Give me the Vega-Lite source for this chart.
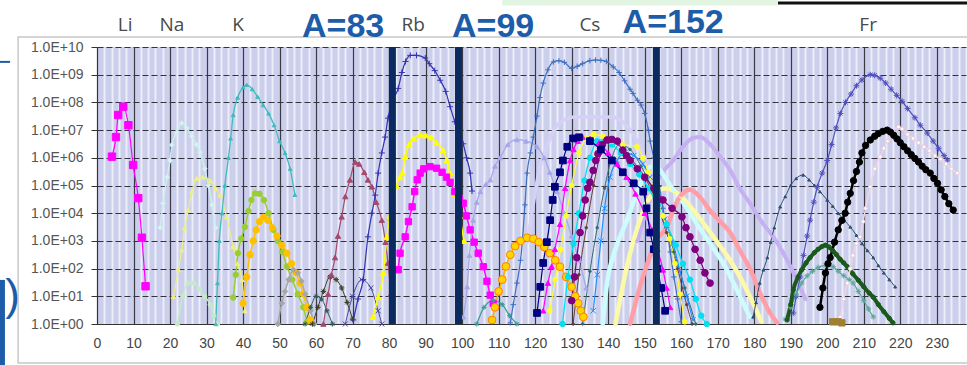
{
"$schema":"https://vega.github.io/schema/vega-lite/v6.json",
"autosize":{"type":"none"},
"width":869,"height":277,
"padding":{"left":97,"top":47,"right":1,"bottom":41},
"background":"#ffffff",
"config":{"view":{"fill":"#cbcfec","stroke":null}},
"datasets":{
"frame":[{"x":-21.6,"x2":240,"y":2.3e10,"y2":0.039}],
"alines":[{"a":80.9},{"a":99.0},{"a":153.2}],
"elem":[{"t":"Li","x":7.7,"y":6.2e10},{"t":"Na","x":20.5,"y":6.2e10},{"t":"K","x":38.6,"y":6.2e10},{"t":"Rb","x":86.6,"y":6.2e10},{"t":"Cs","x":135,"y":6.2e10},{"t":"Fr","x":211.2,"y":6.2e10}],
"big":[{"t":"A=83","x":67.4,"y":2.3e10},{"t":"A=99","x":108.5,"y":2.3e10},{"t":"A=152","x":157.8,"y":3.2e10}],
"paren":[{"t":")","x":-23.1,"y":9.4}],
"decor":[{"k":"bar","x":-25.9,"x2":-25.9,"y":39,"y2":0.033},{"k":"dash","x":-26.6,"x2":-23.8,"y":2.9e9,"y2":2.9e9},{"k":"top","x":186.5,"x2":240,"y":3.9e11,"y2":3.9e11},{"k":"green","x":111,"x2":186.5,"y":4.2e11,"y2":4.2e11}],
"series":[
{"s":"a01","x":118,"y":1e3},{"s":"a01","x":121,"y":3e5},{"s":"a01","x":124,"y":5e6},{"s":"a01","x":127,"y":2e7},{"s":"a01","x":131,"y":3e7},{"s":"a01","x":136,"y":3e7},{"s":"a01","x":141,"y":3e7},{"s":"a01","x":145,"y":1.5e7},{"s":"a01","x":148,"y":4e6},{"s":"a01","x":150,"y":1e6},{"s":"a01","x":152,"y":1.5e5},{"s":"a01","x":154,"y":1e4},
{"s":"a02","x":148,"y":1e3},{"s":"a02","x":151,"y":2e4},{"s":"a02","x":154,"y":2e5},{"s":"a02","x":157.8,"y":8e5},{"s":"a02","x":160.5,"y":2.5e6},{"s":"a02","x":163,"y":5e6},{"s":"a02","x":165.2,"y":5.6e6},{"s":"a02","x":168,"y":3e6},{"s":"a02","x":170.7,"y":1.1e6},{"s":"a02","x":173.4,"y":3.6e5},{"s":"a02","x":176,"y":8e4},{"s":"a02","x":178.8,"y":2.3e4},{"s":"a02","x":182,"y":5e3},{"s":"a02","x":185.2,"y":1.4e3},{"s":"a02","x":188,"y":360},{"s":"a02","x":191,"y":60},{"s":"a02","x":194,"y":8},
{"s":"a03","x":138.5,"y":1},{"s":"a03","x":139.7,"y":30},{"s":"a03","x":142,"y":500},{"s":"a03","x":145,"y":5e3},{"s":"a03","x":148,"y":6e4},{"s":"a03","x":151.5,"y":4.7e5},{"s":"a03","x":153,"y":5e5},{"s":"a03","x":155.5,"y":2e5},{"s":"a03","x":157.8,"y":7e4},{"s":"a03","x":161,"y":2e4},{"s":"a03","x":165,"y":3e3},{"s":"a03","x":169,"y":500},{"s":"a03","x":172,"y":120},{"s":"a03","x":175,"y":20},{"s":"a03","x":178.8,"y":1.8},
{"s":"a04","x":142,"y":1},{"s":"a04","x":145,"y":100},{"s":"a04","x":148,"y":3e3},{"s":"a04","x":151,"y":3e4},{"s":"a04","x":153,"y":6e4},{"s":"a04","x":156,"y":8e4},{"s":"a04","x":160,"y":4e4},{"s":"a04","x":163.5,"y":1.2e4},{"s":"a04","x":167,"y":3e3},{"s":"a04","x":170.5,"y":700},{"s":"a04","x":174,"y":150},{"s":"a04","x":177,"y":30},{"s":"a04","x":179.7,"y":5.6},{"s":"a04","x":182,"y":1.2},
{"s":"a05","x":146,"y":1},{"s":"a05","x":149,"y":30},{"s":"a05","x":151.5,"y":300},{"s":"a05","x":153,"y":1e3},{"s":"a05","x":156,"y":3e3},{"s":"a05","x":158,"y":1.5e4},{"s":"a05","x":160,"y":4.5e4},{"s":"a05","x":162.4,"y":7e4},{"s":"a05","x":165,"y":4e4},{"s":"a05","x":168,"y":1.2e4},{"s":"a05","x":170.7,"y":5e3},{"s":"a05","x":173.4,"y":2e3},{"s":"a05","x":176,"y":470},{"s":"a05","x":179,"y":90},{"s":"a05","x":181.6,"y":13},{"s":"a05","x":184,"y":3},{"s":"a05","x":186.3,"y":1.1},
{"s":"a06","x":17.3,"y":3e3},{"s":"a06","x":18.1,"y":2.3e4},{"s":"a06","x":19.2,"y":2e5},{"s":"a06","x":20,"y":8e5},{"s":"a06","x":20.5,"y":2.9e6},{"s":"a06","x":21.8,"y":8e6},{"s":"a06","x":23.2,"y":1.8e7},{"s":"a06","x":24.5,"y":1.2e7},{"s":"a06","x":26,"y":6e6},{"s":"a06","x":27.2,"y":3e6},{"s":"a06","x":28.2,"y":1.6e6},{"s":"a06","x":29.5,"y":4e5},{"s":"a06","x":30.5,"y":1e5},{"s":"a06","x":31.5,"y":2e4},{"s":"a06","x":32.5,"y":3e3},
{"s":"a07","x":20.9,"y":10},{"s":"a07","x":22.3,"y":91},{"s":"a07","x":23.2,"y":470},{"s":"a07","x":24,"y":3e3},{"s":"a07","x":25,"y":1.3e4},{"s":"a07","x":26,"y":6e4},{"s":"a07","x":27.3,"y":1.8e5},{"s":"a07","x":29,"y":2e5},{"s":"a07","x":31,"y":1.5e5},{"s":"a07","x":32.5,"y":8e4},{"s":"a07","x":33.7,"y":4.5e4},{"s":"a07","x":35.5,"y":7.4e3},{"s":"a07","x":37.3,"y":630},{"s":"a07","x":38.5,"y":150},{"s":"a07","x":39.7,"y":40},{"s":"a07","x":40.5,"y":3},
{"s":"a08","x":22,"y":1},{"s":"a08","x":23.5,"y":10},{"s":"a08","x":25,"y":30},{"s":"a08","x":26.5,"y":30},{"s":"a08","x":28,"y":18},{"s":"a08","x":29.5,"y":10},{"s":"a08","x":31,"y":5},{"s":"a08","x":32,"y":2},{"s":"a08","x":33,"y":1},
{"s":"a09","x":32.5,"y":1},{"s":"a09","x":33,"y":30},{"s":"a09","x":33.5,"y":1e3},{"s":"a09","x":34.2,"y":1e4},{"s":"a09","x":35,"y":1e5},{"s":"a09","x":36,"y":1e6},{"s":"a09","x":36.6,"y":5e6},{"s":"a09","x":37.3,"y":3.5e7},{"s":"a09","x":38.5,"y":1.5e8},{"s":"a09","x":40,"y":3.5e8},{"s":"a09","x":41,"y":4.3e8},{"s":"a09","x":42.5,"y":3e8},{"s":"a09","x":44,"y":1.6e8},{"s":"a09","x":45.5,"y":8e7},{"s":"a09","x":47,"y":4e7},{"s":"a09","x":48.5,"y":1.5e7},{"s":"a09","x":50,"y":4e6},{"s":"a09","x":51.5,"y":1.5e6},{"s":"a09","x":52.9,"y":4e5},{"s":"a09","x":54.2,"y":4.6e4},
{"s":"a10","x":37.3,"y":9},{"s":"a10","x":38,"y":60},{"s":"a10","x":38.6,"y":360},{"s":"a10","x":39.5,"y":1.2e3},{"s":"a10","x":40.5,"y":3.2e3},{"s":"a10","x":41.5,"y":1.2e4},{"s":"a10","x":42.3,"y":3e4},{"s":"a10","x":43.3,"y":5.2e4},{"s":"a10","x":44.5,"y":5e4},{"s":"a10","x":45.7,"y":3e4},{"s":"a10","x":47,"y":1e4},{"s":"a10","x":48.3,"y":2.5e3},{"s":"a10","x":49.5,"y":1e3},{"s":"a10","x":50.8,"y":400},{"s":"a10","x":52,"y":120},{"s":"a10","x":53.5,"y":40},{"s":"a10","x":55,"y":12},{"s":"a10","x":56.5,"y":4},{"s":"a10","x":57.5,"y":1.2},
{"s":"a11","x":40,"y":5.6},{"s":"a11","x":41,"y":50},{"s":"a11","x":41.9,"y":316},{"s":"a11","x":42.8,"y":1e3},{"s":"a11","x":43.6,"y":2.5e3},{"s":"a11","x":44.5,"y":5e3},{"s":"a11","x":45.6,"y":7.2e3},{"s":"a11","x":46.8,"y":5.5e3},{"s":"a11","x":48,"y":3e3},{"s":"a11","x":49.3,"y":1.5e3},{"s":"a11","x":50.6,"y":700},{"s":"a11","x":52,"y":360},{"s":"a11","x":53.3,"y":150},{"s":"a11","x":54.5,"y":70},{"s":"a11","x":55.6,"y":30},{"s":"a11","x":56.5,"y":12},{"s":"a11","x":57.5,"y":4},{"s":"a11","x":58.4,"y":1.4},
{"s":"a12","x":49.5,"y":1},{"s":"a12","x":50.6,"y":5.6},{"s":"a12","x":51.5,"y":15},{"s":"a12","x":52.5,"y":40},{"s":"a12","x":53.8,"y":90},{"s":"a12","x":55,"y":70},{"s":"a12","x":56,"y":35},{"s":"a12","x":57,"y":12},{"s":"a12","x":58.5,"y":3},{"s":"a12","x":59.5,"y":1},
{"s":"a13","x":57,"y":1},{"s":"a13","x":58.5,"y":4},{"s":"a13","x":60,"y":10},{"s":"a13","x":61.5,"y":8},{"s":"a13","x":63,"y":3},{"s":"a13","x":64.5,"y":1},
{"s":"a14","x":59,"y":1},{"s":"a14","x":60.5,"y":4},{"s":"a14","x":62,"y":15},{"s":"a14","x":63.8,"y":50},{"s":"a14","x":65.5,"y":40},{"s":"a14","x":67,"y":20},{"s":"a14","x":68.5,"y":6},{"s":"a14","x":70,"y":1.5},
{"s":"a15","x":62,"y":1},{"s":"a15","x":63.3,"y":12},{"s":"a15","x":64.2,"y":60},{"s":"a15","x":65.2,"y":250},{"s":"a15","x":66,"y":1.5e3},{"s":"a15","x":67,"y":7.4e3},{"s":"a15","x":68,"y":4e4},{"s":"a15","x":69.3,"y":1.6e5},{"s":"a15","x":70.7,"y":7e5},{"s":"a15","x":71.8,"y":6e5},{"s":"a15","x":73.2,"y":3e5},{"s":"a15","x":74.2,"y":1.6e5},{"s":"a15","x":75.3,"y":9e4},{"s":"a15","x":76.5,"y":2.5e4},{"s":"a15","x":78,"y":5.6e3},{"s":"a15","x":79,"y":900},{"s":"a15","x":79.7,"y":160},{"s":"a15","x":80.5,"y":12},
{"s":"a16","x":68,"y":1},{"s":"a16","x":70,"y":10},{"s":"a16","x":72.5,"y":40},{"s":"a16","x":75,"y":20},{"s":"a16","x":77,"y":3},{"s":"a16","x":78,"y":1},
{"s":"a17","x":70.2,"y":1.4},{"s":"a17","x":71.5,"y":8},{"s":"a17","x":72.9,"y":40},{"s":"a17","x":74.2,"y":1.4e3},{"s":"a17","x":75.3,"y":1e4},{"s":"a17","x":76.2,"y":4.5e4},{"s":"a17","x":77,"y":2.8e5},{"s":"a17","x":78,"y":1.5e6},{"s":"a17","x":78.9,"y":5.6e6},{"s":"a17","x":79.7,"y":2.7e7},{"s":"a17","x":81,"y":1.2e8},{"s":"a17","x":82.5,"y":3.2e8},{"s":"a17","x":83.5,"y":1.2e9},{"s":"a17","x":84.5,"y":3e9},{"s":"a17","x":85.8,"y":5e9},{"s":"a17","x":87.5,"y":5e9},{"s":"a17","x":89.9,"y":4e9},{"s":"a17","x":91,"y":2.5e9},{"s":"a17","x":92.5,"y":1.4e9},{"s":"a17","x":94,"y":6.3e8},{"s":"a17","x":95.5,"y":2.5e8},{"s":"a17","x":96.7,"y":7e7},{"s":"a17","x":98,"y":2e7},{"s":"a17","x":99.2,"y":6e6},{"s":"a17","x":100.3,"y":3.2e6},{"s":"a17","x":101.2,"y":1e6},{"s":"a17","x":102.2,"y":2.8e5},{"s":"a17","x":102.7,"y":6.3e4},
{"s":"a18","x":75.6,"y":1.8},{"s":"a18","x":77,"y":9.3},{"s":"a18","x":78.4,"y":70},{"s":"a18","x":79.4,"y":1.4e3},{"s":"a18","x":80.2,"y":8e3},{"s":"a18","x":81,"y":3e4},{"s":"a18","x":82,"y":1e5},{"s":"a18","x":83,"y":2e5},{"s":"a18","x":83.6,"y":2.8e5},{"s":"a18","x":84.4,"y":1.1e6},{"s":"a18","x":85.5,"y":3e6},{"s":"a18","x":86.7,"y":5e6},{"s":"a18","x":88.5,"y":6.6e6},{"s":"a18","x":90,"y":6.5e6},{"s":"a18","x":91.5,"y":5.5e6},{"s":"a18","x":93,"y":3.5e6},{"s":"a18","x":94.8,"y":1.9e6},{"s":"a18","x":95.8,"y":8e5},{"s":"a18","x":96.7,"y":2.8e5},{"s":"a18","x":98,"y":5e4},{"s":"a18","x":99.3,"y":8e3},{"s":"a18","x":100.5,"y":1e3},
{"s":"a19","x":82.5,"y":91},{"s":"a19","x":83,"y":360},{"s":"a19","x":84.4,"y":1.4e3},{"s":"a19","x":85.3,"y":5e3},{"s":"a19","x":86.3,"y":1.7e4},{"s":"a19","x":87,"y":6e4},{"s":"a19","x":87.7,"y":1.6e5},{"s":"a19","x":88.5,"y":2.8e5},{"s":"a19","x":89.5,"y":4e5},{"s":"a19","x":91.2,"y":4.8e5},{"s":"a19","x":93,"y":4.2e5},{"s":"a19","x":94.5,"y":3e5},{"s":"a19","x":95.7,"y":2e5},{"s":"a19","x":96.7,"y":1.3e5},{"s":"a19","x":98,"y":6e4},{"s":"a19","x":99.2,"y":3.5e4},{"s":"a19","x":100.3,"y":2.3e4},{"s":"a19","x":101.2,"y":8e3},{"s":"a19","x":102.2,"y":2.5e3},{"s":"a19","x":103.3,"y":900},{"s":"a19","x":104.4,"y":360},{"s":"a19","x":105.8,"y":117},{"s":"a19","x":106.8,"y":35},{"s":"a19","x":107.7,"y":11},{"s":"a19","x":108.5,"y":5.6},
{"s":"a20","x":100.3,"y":1.8},{"s":"a20","x":101.4,"y":22},{"s":"a20","x":102,"y":300},{"s":"a20","x":103,"y":5.6e3},{"s":"a20","x":104,"y":2.5e4},{"s":"a20","x":105,"y":6e4},{"s":"a20","x":106.5,"y":1.1e5},{"s":"a20","x":107.7,"y":1.6e5},{"s":"a20","x":109,"y":5e5},{"s":"a20","x":110.4,"y":1e6},{"s":"a20","x":112.5,"y":3e6},{"s":"a20","x":115,"y":4.5e6},{"s":"a20","x":117.5,"y":4e6},{"s":"a20","x":120.5,"y":2.5e6},{"s":"a20","x":122.5,"y":1e6},{"s":"a20","x":124,"y":3e5},{"s":"a20","x":126,"y":6e4},{"s":"a20","x":128,"y":1e4},{"s":"a20","x":130,"y":1.5e3},{"s":"a20","x":132,"y":200},{"s":"a20","x":134,"y":20},
{"s":"a21","x":104,"y":1},{"s":"a21","x":106,"y":4},{"s":"a21","x":108.5,"y":7},{"s":"a21","x":111,"y":5},{"s":"a21","x":113,"y":2},{"s":"a21","x":115,"y":1},
{"s":"a22","x":113.2,"y":1.1},{"s":"a22","x":114,"y":5},{"s":"a22","x":115,"y":30},{"s":"a22","x":116,"y":200},{"s":"a22","x":116.5,"y":1e3},{"s":"a22","x":117.2,"y":2e4},{"s":"a22","x":117.8,"y":2.8e5},{"s":"a22","x":118.7,"y":1.5e6},{"s":"a22","x":119.5,"y":5.6e6},{"s":"a22","x":120.5,"y":3.2e7},{"s":"a22","x":121.3,"y":1.5e8},{"s":"a22","x":122.2,"y":5e8},{"s":"a22","x":123.5,"y":1.5e9},{"s":"a22","x":125,"y":2.9e9},{"s":"a22","x":126.5,"y":3.2e9},{"s":"a22","x":128,"y":2.8e9},{"s":"a22","x":130,"y":1.7e9},{"s":"a22","x":131.5,"y":2e9},{"s":"a22","x":133,"y":2.5e9},{"s":"a22","x":135,"y":3.2e9},{"s":"a22","x":136.5,"y":3.4e9},{"s":"a22","x":138,"y":3.3e9},{"s":"a22","x":139.5,"y":3e9},{"s":"a22","x":141.4,"y":1.9e9},{"s":"a22","x":143,"y":1.2e9},{"s":"a22","x":144.5,"y":6e8},{"s":"a22","x":146,"y":3e8},{"s":"a22","x":146.8,"y":2.1e8},{"s":"a22","x":148,"y":1.2e8},{"s":"a22","x":149,"y":8e7},{"s":"a22","x":150,"y":4e7},{"s":"a22","x":151,"y":1e7},{"s":"a22","x":151.5,"y":4e6},{"s":"a22","x":152.5,"y":1e6},{"s":"a22","x":154,"y":1e5},{"s":"a22","x":155,"y":1.5e4},{"s":"a22","x":156,"y":3e3},{"s":"a22","x":157,"y":400},{"s":"a22","x":158,"y":50},{"s":"a22","x":159,"y":8},{"s":"a22","x":160,"y":1.2},
{"s":"a23","x":108.2,"y":1.4},{"s":"a23","x":109,"y":4},{"s":"a23","x":110,"y":15},{"s":"a23","x":111,"y":40},{"s":"a23","x":112,"y":120},{"s":"a23","x":113.2,"y":316},{"s":"a23","x":114.5,"y":650},{"s":"a23","x":116,"y":1e3},{"s":"a23","x":117.8,"y":1.3e3},{"s":"a23","x":119.5,"y":1.2e3},{"s":"a23","x":121,"y":900},{"s":"a23","x":122.5,"y":600},{"s":"a23","x":124,"y":360},{"s":"a23","x":125.5,"y":200},{"s":"a23","x":126.8,"y":117},{"s":"a23","x":128.5,"y":50},{"s":"a23","x":130,"y":22},{"s":"a23","x":131,"y":10},{"s":"a23","x":131.8,"y":5.6},{"s":"a23","x":132.5,"y":3},{"s":"a23","x":133.2,"y":1.8},
{"s":"a24","x":130.4,"y":1},{"s":"a24","x":132,"y":60},{"s":"a24","x":134,"y":3e3},{"s":"a24","x":136,"y":1e5},{"s":"a24","x":138,"y":1.5e6},{"s":"a24","x":140,"y":4e6},{"s":"a24","x":143,"y":3e6},{"s":"a24","x":146,"y":1e6},{"s":"a24","x":150,"y":2e5},{"s":"a24","x":153,"y":3e4},{"s":"a24","x":156,"y":2e3},{"s":"a24","x":159,"y":100},{"s":"a24","x":161.5,"y":5},{"s":"a24","x":163,"y":1},
{"s":"a25","x":133,"y":1},{"s":"a25","x":135,"y":80},{"s":"a25","x":137,"y":3e3},{"s":"a25","x":139,"y":8e4},{"s":"a25","x":141,"y":1e6},{"s":"a25","x":143,"y":3e6},{"s":"a25","x":146,"y":2e6},{"s":"a25","x":149,"y":5e5},{"s":"a25","x":152,"y":8e4},{"s":"a25","x":155,"y":8e3},{"s":"a25","x":158,"y":400},{"s":"a25","x":161,"y":20},{"s":"a25","x":164,"y":1},
{"s":"a26","x":135.9,"y":3},{"s":"a26","x":137,"y":60},{"s":"a26","x":138,"y":1e3},{"s":"a26","x":139,"y":1.5e4},{"s":"a26","x":140.5,"y":2e5},{"s":"a26","x":142.4,"y":8e5},{"s":"a26","x":144.5,"y":1.5e6},{"s":"a26","x":147,"y":1.2e6},{"s":"a26","x":149.5,"y":6e5},{"s":"a26","x":151.5,"y":2e5},{"s":"a26","x":153.5,"y":4e4},{"s":"a26","x":155.5,"y":6e3},{"s":"a26","x":157.8,"y":800},{"s":"a26","x":159.5,"y":100},{"s":"a26","x":161.5,"y":10},{"s":"a26","x":163.2,"y":1.4},
{"s":"a27","x":127.5,"y":1},{"s":"a27","x":129,"y":50},{"s":"a27","x":130.5,"y":800},{"s":"a27","x":132,"y":1e4},{"s":"a27","x":133.5,"y":1.5e5},{"s":"a27","x":135,"y":1e6},{"s":"a27","x":137,"y":4e6},{"s":"a27","x":139,"y":4.5e6},{"s":"a27","x":141,"y":3e6},{"s":"a27","x":143.5,"y":1.5e6},{"s":"a27","x":146,"y":6e5},{"s":"a27","x":148.5,"y":2.5e5},{"s":"a27","x":151,"y":8e4},{"s":"a27","x":153.5,"y":2e4},{"s":"a27","x":156,"y":4e3},{"s":"a27","x":158.5,"y":700},{"s":"a27","x":160.5,"y":150},{"s":"a27","x":162.4,"y":40},{"s":"a27","x":164,"y":8},{"s":"a27","x":165.5,"y":2},{"s":"a27","x":167,"y":1},
{"s":"a28","x":124,"y":3},{"s":"a28","x":125.5,"y":40},{"s":"a28","x":127,"y":500},{"s":"a28","x":128.5,"y":8e3},{"s":"a28","x":130,"y":1e5},{"s":"a28","x":132,"y":1.5e6},{"s":"a28","x":134,"y":5e6},{"s":"a28","x":136,"y":7e6},{"s":"a28","x":138.5,"y":6e6},{"s":"a28","x":141,"y":4e6},{"s":"a28","x":144,"y":3e6},{"s":"a28","x":147.9,"y":2.5e6},{"s":"a28","x":149.5,"y":1e6},{"s":"a28","x":151,"y":3e5},{"s":"a28","x":153,"y":5e4},{"s":"a28","x":155,"y":8e3},{"s":"a28","x":156.8,"y":1.2e3},{"s":"a28","x":158.3,"y":150},{"s":"a28","x":159.7,"y":12},{"s":"a28","x":161,"y":1.2},
{"s":"a29","x":122.2,"y":3},{"s":"a29","x":123.5,"y":30},{"s":"a29","x":124.5,"y":120},{"s":"a29","x":125.4,"y":500},{"s":"a29","x":126.8,"y":4e3},{"s":"a29","x":128.2,"y":8e4},{"s":"a29","x":129.6,"y":8e5},{"s":"a29","x":130.5,"y":2e6},{"s":"a29","x":131.7,"y":4e6},{"s":"a29","x":133,"y":5.6e6},{"s":"a29","x":135,"y":5e6},{"s":"a29","x":137.5,"y":3.5e6},{"s":"a29","x":140,"y":1.5e6},{"s":"a29","x":142.5,"y":6e5},{"s":"a29","x":145,"y":2e5},{"s":"a29","x":147.5,"y":5e4},{"s":"a29","x":150,"y":1e4},{"s":"a29","x":152,"y":2.5e3},{"s":"a29","x":153.5,"y":500},{"s":"a29","x":155,"y":90},{"s":"a29","x":156,"y":20},{"s":"a29","x":157,"y":4},
{"s":"a30","x":130,"y":7},{"s":"a30","x":130.8,"y":50},{"s":"a30","x":131.4,"y":250},{"s":"a30","x":132.3,"y":2e3},{"s":"a30","x":133,"y":8e3},{"s":"a30","x":133.7,"y":3e4},{"s":"a30","x":134.4,"y":8e4},{"s":"a30","x":135,"y":1.3e5},{"s":"a30","x":135.9,"y":3.5e5},{"s":"a30","x":136.6,"y":8e5},{"s":"a30","x":137.2,"y":1.4e6},{"s":"a30","x":138.4,"y":3e6},{"s":"a30","x":139.7,"y":4.4e6},{"s":"a30","x":141,"y":4.6e6},{"s":"a30","x":142.5,"y":4e6},{"s":"a30","x":144,"y":1.9e6},{"s":"a30","x":145,"y":1.2e6},{"s":"a30","x":146,"y":8e5},{"s":"a30","x":148,"y":4e5},{"s":"a30","x":150,"y":2e5},{"s":"a30","x":152.5,"y":8e4},{"s":"a30","x":155,"y":3e4},{"s":"a30","x":157.5,"y":1.5e4},{"s":"a30","x":160.2,"y":7.4e3},{"s":"a30","x":161.3,"y":3e3},{"s":"a30","x":162.4,"y":1.4e3},{"s":"a30","x":163.8,"y":500},{"s":"a30","x":165.2,"y":200},{"s":"a30","x":166.5,"y":70},{"s":"a30","x":167.9,"y":30},
{"s":"a31","x":120.5,"y":2.5},{"s":"a31","x":121.4,"y":22},{"s":"a31","x":122.2,"y":160},{"s":"a31","x":123.2,"y":900},{"s":"a31","x":124.1,"y":5.6e3},{"s":"a31","x":124.8,"y":3e4},{"s":"a31","x":125.4,"y":9e4},{"s":"a31","x":126.8,"y":3e5},{"s":"a31","x":127.6,"y":8e5},{"s":"a31","x":128.8,"y":2.5e6},{"s":"a31","x":130.4,"y":5e6},{"s":"a31","x":132,"y":5.5e6},{"s":"a31","x":135,"y":4e6},{"s":"a31","x":138,"y":2e6},{"s":"a31","x":141,"y":8e5},{"s":"a31","x":144,"y":3e5},{"s":"a31","x":147,"y":1.2e5},{"s":"a31","x":149.6,"y":6e4},{"s":"a31","x":150.5,"y":1.5e4},{"s":"a31","x":151.5,"y":2e3},{"s":"a31","x":152.5,"y":500},{"s":"a31","x":153.5,"y":100},{"s":"a31","x":154.5,"y":20},{"s":"a31","x":155.6,"y":3},
{"s":"a32","x":179.7,"y":1.8},{"s":"a32","x":180.5,"y":6},{"s":"a32","x":181.5,"y":30},{"s":"a32","x":182.5,"y":90},{"s":"a32","x":183.6,"y":250},{"s":"a32","x":184.5,"y":900},{"s":"a32","x":185.5,"y":3e3},{"s":"a32","x":187.1,"y":1.7e4},{"s":"a32","x":188.5,"y":4e4},{"s":"a32","x":190,"y":1e5},{"s":"a32","x":191.5,"y":1.8e5},{"s":"a32","x":193.4,"y":2.4e5},{"s":"a32","x":195,"y":1.6e5},{"s":"a32","x":196.5,"y":1e5},{"s":"a32","x":198,"y":6e4},{"s":"a32","x":200,"y":3e4},{"s":"a32","x":201.5,"y":1.8e4},{"s":"a32","x":203,"y":1e4},{"s":"a32","x":204.7,"y":5.5e3},{"s":"a32","x":206.3,"y":3.2e3},{"s":"a32","x":208,"y":1.6e3},{"s":"a32","x":209.5,"y":800},{"s":"a32","x":211,"y":450},{"s":"a32","x":212.6,"y":250},{"s":"a32","x":214,"y":130},{"s":"a32","x":215.5,"y":70},{"s":"a32","x":217,"y":40},{"s":"a32","x":218.6,"y":22},
{"s":"a33","x":190.7,"y":2.5},{"s":"a33","x":191.5,"y":10},{"s":"a33","x":192.6,"y":50},{"s":"a33","x":193.5,"y":300},{"s":"a33","x":194.5,"y":1.5e3},{"s":"a33","x":195.3,"y":5.6e3},{"s":"a33","x":196.3,"y":2.5e4},{"s":"a33","x":197.3,"y":9e4},{"s":"a33","x":198.6,"y":2.8e5},{"s":"a33","x":200,"y":8e5},{"s":"a33","x":201.2,"y":3e6},{"s":"a33","x":202.4,"y":1.2e7},{"s":"a33","x":203.6,"y":4e7},{"s":"a33","x":205,"y":1e8},{"s":"a33","x":206.5,"y":2e8},{"s":"a33","x":208,"y":4e8},{"s":"a33","x":209.5,"y":6.5e8},{"s":"a33","x":211.8,"y":1e9},{"s":"a33","x":213,"y":9.5e8},{"s":"a33","x":214.5,"y":7.5e8},{"s":"a33","x":216,"y":5e8},{"s":"a33","x":217.5,"y":3e8},{"s":"a33","x":219,"y":1.8e8},{"s":"a33","x":220.5,"y":1.1e8},{"s":"a33","x":222,"y":6e7},{"s":"a33","x":224,"y":2.8e7},{"s":"a33","x":225.5,"y":1.5e7},{"s":"a33","x":227.4,"y":7.8e6},{"s":"a33","x":229,"y":4e6},{"s":"a33","x":230.5,"y":2.2e6},{"s":"a33","x":232,"y":1.2e6},{"s":"a33","x":232.9,"y":8.3e5},
{"s":"a34","x":188.5,"y":1.5},{"s":"a34","x":190,"y":4},{"s":"a34","x":191.5,"y":12},{"s":"a34","x":193,"y":30},{"s":"a34","x":194.5,"y":55},{"s":"a34","x":196,"y":80},{"s":"a34","x":197.5,"y":110},{"s":"a34","x":199.5,"y":130},{"s":"a34","x":201.6,"y":117},{"s":"a34","x":203,"y":80},{"s":"a34","x":204.5,"y":55},{"s":"a34","x":206,"y":40},{"s":"a34","x":207.1,"y":30},{"s":"a34","x":208.5,"y":15},{"s":"a34","x":210,"y":7},{"s":"a34","x":211.3,"y":3.5},{"s":"a34","x":212.6,"y":1.8},
{"s":"a35","x":189,"y":1.4},{"s":"a35","x":190,"y":5},{"s":"a35","x":190.7,"y":17},{"s":"a35","x":192,"y":50},{"s":"a35","x":193,"y":90},{"s":"a35","x":194.2,"y":160},{"s":"a35","x":195.3,"y":250},{"s":"a35","x":196.5,"y":380},{"s":"a35","x":197.5,"y":500},{"s":"a35","x":198.5,"y":620},{"s":"a35","x":199.5,"y":700},{"s":"a35","x":200.5,"y":600},{"s":"a35","x":201.5,"y":450},{"s":"a35","x":202.5,"y":320},{"s":"a35","x":203.5,"y":220},{"s":"a35","x":204.5,"y":160},{"s":"a35","x":205.5,"y":117},{"s":"a35","x":207,"y":65},{"s":"a35","x":208.5,"y":38},{"s":"a35","x":210,"y":22},{"s":"a35","x":211.5,"y":13},{"s":"a35","x":212.6,"y":9.3},{"s":"a35","x":214,"y":5},{"s":"a35","x":215.5,"y":2.8},{"s":"a35","x":217,"y":1.6},{"s":"a35","x":218,"y":1.1},
{"s":"a36","x":203.6,"y":1.8},{"s":"a36","x":204.5,"y":8},{"s":"a36","x":205.5,"y":30},{"s":"a36","x":206.3,"y":100},{"s":"a36","x":207,"y":300},{"s":"a36","x":208,"y":800},{"s":"a36","x":209,"y":1.4e3},{"s":"a36","x":209.8,"y":5e3},{"s":"a36","x":210.5,"y":1.5e4},{"s":"a36","x":211.8,"y":9e4},{"s":"a36","x":213,"y":4e5},{"s":"a36","x":214.5,"y":1.1e6},{"s":"a36","x":215.5,"y":2.2e6},{"s":"a36","x":216.5,"y":4e6},{"s":"a36","x":218,"y":8e6},{"s":"a36","x":219.5,"y":1.3e7},{"s":"a36","x":220.5,"y":1.1e7},{"s":"a36","x":222,"y":7e6},{"s":"a36","x":223.5,"y":5e6},{"s":"a36","x":225,"y":3.5e6},{"s":"a36","x":226.5,"y":2.5e6},{"s":"a36","x":228,"y":1.8e6},{"s":"a36","x":229.5,"y":1.2e6},{"s":"a36","x":231,"y":9e5},{"s":"a36","x":232.5,"y":6e5},{"s":"a36","x":234,"y":4e5},{"s":"a36","x":235.6,"y":2.8e5},
{"s":"a37","x":198,"y":4},{"s":"a37","x":198.8,"y":20},{"s":"a37","x":199.5,"y":70},{"s":"a37","x":200.2,"y":150},{"s":"a37","x":200.8,"y":250},{"s":"a37","x":202,"y":900},{"s":"a37","x":203,"y":2.5e3},{"s":"a37","x":204,"y":5.5e3},{"s":"a37","x":204.9,"y":1e4},{"s":"a37","x":205.6,"y":2.5e4},{"s":"a37","x":206.3,"y":5.2e4},{"s":"a37","x":207.2,"y":1.5e5},{"s":"a37","x":208,"y":3.2e5},{"s":"a37","x":208.8,"y":7e5},{"s":"a37","x":209.5,"y":1.5e6},{"s":"a37","x":210.5,"y":2.8e6},{"s":"a37","x":211.8,"y":4.4e6},{"s":"a37","x":213,"y":6e6},{"s":"a37","x":214,"y":7.5e6},{"s":"a37","x":215.2,"y":9e6},{"s":"a37","x":216.4,"y":1e7},{"s":"a37","x":217.3,"y":8.5e6},{"s":"a37","x":218.2,"y":6.5e6},{"s":"a37","x":219.1,"y":4.8e6},{"s":"a37","x":220,"y":3.5e6},{"s":"a37","x":221,"y":2.5e6},{"s":"a37","x":222,"y":1.8e6},{"s":"a37","x":223,"y":1.3e6},{"s":"a37","x":224,"y":9.5e5},{"s":"a37","x":225,"y":7e5},{"s":"a37","x":226,"y":5e5},{"s":"a37","x":227,"y":3.7e5},{"s":"a37","x":228.2,"y":2.8e5},{"s":"a37","x":229.2,"y":1.8e5},{"s":"a37","x":230.2,"y":1.2e5},{"s":"a37","x":231.2,"y":7e4},{"s":"a37","x":232.2,"y":4e4},{"s":"a37","x":233.3,"y":2.2e4},{"s":"a37","x":234.5,"y":1.3e4},
{"s":"a38","x":201.5,"y":1.2},{"s":"a38","x":203,"y":1.2},{"s":"a38","x":204,"y":1.1},
{"s":"a39","x":4.1,"y":1.1e6},{"s":"a39","x":5.2,"y":5.6e6},{"s":"a39","x":5.8,"y":3.5e7},{"s":"a39","x":7.2,"y":7e7},{"s":"a39","x":8.6,"y":1.5e7},{"s":"a39","x":9.9,"y":5.5e5},{"s":"a39","x":11.3,"y":3.5e4},{"s":"a39","x":12.3,"y":1.3e3},{"s":"a39","x":13.3,"y":23}
]},
"resolve":{"scale":{"color":"independent","strokeWidth":"independent"}},
"layer":[
{"data":{"name":"frame"},
 "mark":{"type":"rect","fillOpacity":0,"stroke":"#c8c8c8","strokeWidth":1.5},
 "encoding":{
  "x":{"field":"x","type":"quantitative","scale":{"domain":[0,238],"nice":false,"zero":false}},
  "x2":{"field":"x2"},
  "y":{"field":"y","type":"quantitative","scale":{"type":"log","domain":[1,1e10],"nice":false}},
  "y2":{"field":"y2"}}},
{"data":{"name":"series"},
 "mark":{"type":"line","interpolate":"monotone"},
 "encoding":{
  "x":{"field":"x","type":"quantitative","scale":{"domain":[0,238],"nice":false,"zero":false},
   "axis":{"orient":"bottom","title":null,"tickCount":300,"values":[0,2,4,6,8,10,12,14,16,18,20,22,24,26,28,30,32,34,36,38,40,42,44,46,48,50,52,54,56,58,60,62,64,66,68,70,72,74,76,78,80,82,84,86,88,90,92,94,96,98,100,102,104,106,108,110,112,114,116,118,120,122,124,126,128,130,132,134,136,138,140,142,144,146,148,150,152,154,156,158,160,162,164,166,168,170,172,174,176,178,180,182,184,186,188,190,192,194,196,198,200,202,204,206,208,210,212,214,216,218,220,222,224,226,228,230,232,234,236,238],
    "labelExpr":"datum.value % 10 === 0 ? datum.label : ''",
    "grid":true,
    "gridColor":{"condition":{"test":"datum.value % 10 === 0","value":"#3a3a44"},"value":"#eceefa"},
    "gridWidth":{"condition":{"test":"datum.value % 10 === 0","value":1.2},"value":2},
    "domain":true,"domainColor":"#333","ticks":false,"labelPadding":12,"labelFont":"Liberation Sans","labelFontSize":14,"labelColor":"#444","labelFlush":false,"labelOverlap":false}},
  "y":{"field":"y","type":"quantitative","scale":{"type":"log","domain":[1,1e10],"nice":false},
   "axis":{"title":null,"tickCount":50,"values":[1,10,100,1000,10000,100000,1000000,10000000,100000000,1000000000,10000000000],"labelExpr":"datum.value >= 9e9 ? '1.0E+10' : '1.0E+0' + round(log(datum.value)/LN10)","grid":true,"gridColor":"#333340","gridDash":[6,3],"gridWidth":1.2,"domain":true,"domainColor":"#333","ticks":true,"tickColor":"#333","tickSize":6,"labelPadding":8,"labelFont":"Liberation Sans","labelFontSize":14,"labelColor":"#555","labelOverlap":false}},
  "color":{"field":"s","type":"nominal","legend":null,"scale":{"domain":["a01","a02","a03","a04","a05","a06","a07","a08","a09","a10","a11","a12","a13","a14","a15","a16","a17","a18","a19","a20","a21","a22","a23","a24","a25","a26","a27","a28","a29","a30","a31","a32","a33","a34","a35","a36","a37","a38","a39"],
   "range":["#d6d0f6","#c6b0f2","#ccfcfc","#fafaa8","#ff9ea6","#cceeee","#eeee88","#c4ecc4","#3fbcbc","#9acd32","#ffc000","#a6a6a6","#305858","#3a4020","#a34a6e","#4848a0","#3333b3","#ffff00","#ff00ff","#a6a6ea","#3a9a9a","#3f6fc0","#ffb000","#6a3a3a","#2f6f6f","#1e90ff","#00e0f0","#ffff30","#ff00ff","#800080","#000080","#2f5070","#5050c0","#5aa898","#1a5a1a","#f2d4e4","#000000","#a08030","#ff00ff"]}},
  "strokeWidth":{"field":"s","type":"ordinal","legend":null,"scale":{"type":"ordinal","domain":["a01","a02","a03","a04","a05","a06","a07","a08","a09","a10","a11","a12","a13","a14","a15","a16","a17","a18","a19","a20","a21","a22","a23","a24","a25","a26","a27","a28","a29","a30","a31","a32","a33","a34","a35","a36","a37","a38","a39"],
   "range":[3.5,4,4.5,4.5,4.5,1.5,1.2,1.5,1.3,1.5,1.5,1.5,1,1,1.2,1,1.2,1.5,1.5,1.3,1.2,1.2,1.5,1,1,1.2,1.3,1.2,1.2,1.2,1.2,1,1.2,1.2,4,1.5,2.5,1,1.2]}}}},
{"data":{"name":"series"},
 "mark":{"type":"point","filled":true,"strokeWidth":1,"opacity":1},
 "encoding":{
  "x":{"field":"x","type":"quantitative"},
  "y":{"field":"y","type":"quantitative"},
  "fill":{"field":"s","type":"nominal","legend":null,"scale":{"domain":["a01","a02","a03","a04","a05","a06","a07","a08","a09","a10","a11","a12","a13","a14","a15","a16","a17","a18","a19","a20","a21","a22","a23","a24","a25","a26","a27","a28","a29","a30","a31","a32","a33","a34","a35","a36","a37","a38","a39"],
   "range":["#d6d0f6","#c6b0f2","#ccfcfc","#fafaa8","#ff9ea6","#d4f4f4","#eeee88","#c4ecc4","#3fbcbc","#9acd32","#ffc000","#a6a6a6","#305858","#3a4020","#a34a6e","#4848a0","#3333b3","#ffff00","#ff00ff","#a6a6ea","#3a9a9a","#3f6fc0","#ffd400","#6a3a3a","#2f6f6f","#1e90ff","#00e0f0","#ffff30","#ff00ff","#800080","#000080","#2f5070","#5050c0","#5aa898","#1a5a1a","#ffffff","#000000","#a08030","#ff00ff"]}},
  "stroke":{"field":"s","type":"nominal","legend":null,"scale":{"domain":["a01","a02","a03","a04","a05","a06","a07","a08","a09","a10","a11","a12","a13","a14","a15","a16","a17","a18","a19","a20","a21","a22","a23","a24","a25","a26","a27","a28","a29","a30","a31","a32","a33","a34","a35","a36","a37","a38","a39"],
   "range":["#d6d0f6","#c6b0f2","#ccfcfc","#fafaa8","#ff9ea6","#cceeee","#eeee88","#c4ecc4","#3fbcbc","#9acd32","#ffc000","#a6a6a6","#305858","#3a4020","#a34a6e","#4848a0","#3333b3","#ffff00","#ff00ff","#a6a6ea","#3a9a9a","#3f6fc0","#ff8000","#6a3a3a","#2f6f6f","#1e90ff","#00e0f0","#ffff30","#ff00ff","#800080","#000080","#2f5070","#5050c0","#5aa898","#1a5a1a","#e8c8d8","#000000","#a08030","#ff00ff"]}},
  "shape":{"field":"s","type":"nominal","legend":null,"scale":{"domain":["a01","a02","a03","a04","a05","a06","a07","a08","a09","a10","a11","a12","a13","a14","a15","a16","a17","a18","a19","a20","a21","a22","a23","a24","a25","a26","a27","a28","a29","a30","a31","a32","a33","a34","a35","a36","a37","a38","a39"],
   "range":["circle","circle","circle","circle","circle","diamond","triangle-up","circle","triangle-up","circle","circle","diamond","M-1,0H1M0,-1V1M-0.7,-0.7L0.7,0.7M0.7,-0.7L-0.7,0.7","M-1,0H1M0,-1V1M-0.7,-0.7L0.7,0.7M0.7,-0.7L-0.7,0.7","triangle-up","M-1,-1L1,1M1,-1L-1,1","M-1,0H1M0,-1V1","triangle-up","square","triangle-up","M-1,0H1M0,-1V1M-0.7,-0.7L0.7,0.7M0.7,-0.7L-0.7,0.7","M-1,0H1M0,-1V1","circle","circle","circle","M-1,-1L1,1M1,-1L-1,1","circle","circle","triangle-up","circle","square","triangle-up","M-1,0H1M0,-1V1M-0.7,-0.7L0.7,0.7M0.7,-0.7L-0.7,0.7","M-1,0H1M0,-1V1M-0.7,-0.7L0.7,0.7M0.7,-0.7L-0.7,0.7","circle","circle","circle","square","square"]}},
  "size":{"field":"s","type":"ordinal","legend":null,"scale":{"type":"ordinal","domain":["a01","a02","a03","a04","a05","a06","a07","a08","a09","a10","a11","a12","a13","a14","a15","a16","a17","a18","a19","a20","a21","a22","a23","a24","a25","a26","a27","a28","a29","a30","a31","a32","a33","a34","a35","a36","a37","a38","a39"],
   "range":[10,12,12,12,12,25,22,18,14,30,40,30,25,30,28,25,36,35,40,22,25,30,60,6,6,30,30,22,28,45,45,8,36,30,18,14,40,40,55]}}}},
{"data":{"name":"alines"},
 "mark":{"type":"rule","color":"#0b2a5f","strokeWidth":7},
 "encoding":{"x":{"field":"a","type":"quantitative"}}},
{"data":{"name":"elem"},
 "mark":{"type":"text","font":"Open Sans","fontSize":19,"color":"#4a4a4a","align":"center","baseline":"middle"},
 "encoding":{"x":{"field":"x","type":"quantitative"},"y":{"field":"y","type":"quantitative"},"text":{"field":"t"}}},
{"data":{"name":"big"},
 "mark":{"type":"text","font":"Liberation Sans","fontSize":34,"fontWeight":"bold","color":"#1d5ca8","align":"center","baseline":"alphabetic"},
 "encoding":{"x":{"field":"x","type":"quantitative"},"y":{"field":"y","type":"quantitative"},"text":{"field":"t"}}},
{"data":{"name":"paren"},
 "mark":{"type":"text","font":"Liberation Sans","fontSize":44,"color":"#1d5ca8","align":"center","baseline":"middle"},
 "encoding":{"x":{"field":"x","type":"quantitative"},"y":{"field":"y","type":"quantitative"},"text":{"field":"t"}}},
{"data":{"name":"decor"},
 "mark":{"type":"rule"},
 "encoding":{"x":{"field":"x","type":"quantitative"},"x2":{"field":"x2"},"y":{"field":"y","type":"quantitative"},"y2":{"field":"y2"},
  "color":{"field":"k","type":"nominal","legend":null,"scale":{"domain":["bar","dash","top","green"],"range":["#1d5ca8","#1d5ca8","#111111","#e2f5e2"]}},
  "strokeWidth":{"field":"k","type":"ordinal","legend":null,"scale":{"type":"ordinal","domain":["bar","dash","top","green"],"range":[5,2,3,7]}}}}
]
}
